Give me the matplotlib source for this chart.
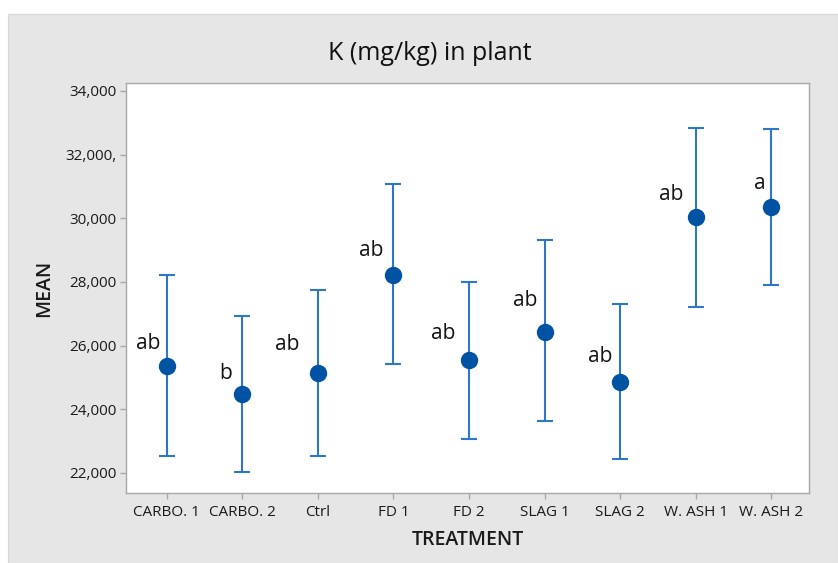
import matplotlib.pyplot as plt
from matplotlib.patches import Rectangle

plt.rcParams['font.family'] = ['Open Sans', 'DejaVu Sans']

treatments = ['CARBO. 1', 'CARBO. 2', 'Ctrl', 'FD 1', 'FD 2',
              'SLAG 1', 'SLAG 2', 'W. ASH 1', 'W. ASH 2']
means = [25360, 24490, 25130, 28210, 25540, 26440, 24860, 30040, 30350]
upper = [28220, 26930, 27750, 31090, 27990, 29310, 27310, 32850, 32810]
lower = [22540, 22020, 22540, 25410, 23080, 23630, 22440, 27220, 27910]
letters = ['ab', 'b', 'ab', 'ab', 'ab', 'ab', 'ab', 'ab', 'a']
ytick_vals = [22000, 24000, 26000, 28000, 30000, 32000, 34000]
ytick_labels = ['22,000', '24,000', '26,000', '28,000', '30,000', '32,000,', '34,000']

# label offsets in pixels (dx, dy) from the mean point
label_offsets = [(-19, 22), (-17, 20), (-31, 29), (-22, 25), (-26, 27),
                 (-19, 31), (-20, 25), (-24, 23), (-11, 24)]

W, H = 838, 563
fig = plt.figure(figsize=(W / 100, H / 100), dpi=100)
fig.patch.set_facecolor('white')
fig.patches.append(Rectangle((8 / W, 0), 1 - 8 / W, 1 - 14 / H,
                             transform=fig.transFigure, facecolor='#e6e6e6',
                             edgecolor='#d6d6d6', lw=0.8, zorder=-10))

ax = fig.add_axes([126 / W, 1 - 493 / H, (809 - 126) / W, (493 - 83) / H])
ax.set_facecolor('white')
ax.set_zorder(5)

x = list(range(1, len(treatments) + 1))
yerr = [[m - l for m, l in zip(means, lower)], [u - m for m, u in zip(means, upper)]]
ax.errorbar(x, means, yerr=yerr, fmt='none', ecolor='#2e77c6', elinewidth=1.5,
            capsize=6, capthick=1.5, zorder=2)
ax.plot(x, means, 'o', color='#0052a3', markersize=11.5, zorder=3)

px = 0.72
for xi, m, lab, (dx, dy) in zip(x, means, letters, label_offsets):
    ax.annotate(lab, (xi, m), xytext=(dx * px, dy * px), textcoords='offset points',
                ha='center', va='center', fontsize=15, color='#111111')

ax.set_xlim(0.46, 9.5)
ax.set_ylim(21370, 34250)
ax.set_xticks(x)
ax.set_xticklabels(treatments)
ax.set_yticks(ytick_vals)
ax.set_yticklabels(ytick_labels)

for s in ax.spines.values():
    s.set_color('#a8a8a8')
    s.set_linewidth(1.0)
ax.tick_params(axis='both', direction='out', length=4, width=1, color='#a8a8a8',
               labelsize=11, labelcolor='#1a1a1a', pad=3)
ax.tick_params(axis='x', pad=5)

ax.set_xlabel('TREATMENT', fontsize=14, color='#1a1a1a', fontweight='semibold', labelpad=7)
ax.set_ylabel('MEAN', fontsize=14, color='#1a1a1a', fontweight='semibold', labelpad=8)
fig.text(430 / W, 1 - 53 / H, 'K (mg/kg) in plant', ha='center', va='center',
         fontsize=18, color='#111111')

fig.savefig('out.png', dpi=100)
